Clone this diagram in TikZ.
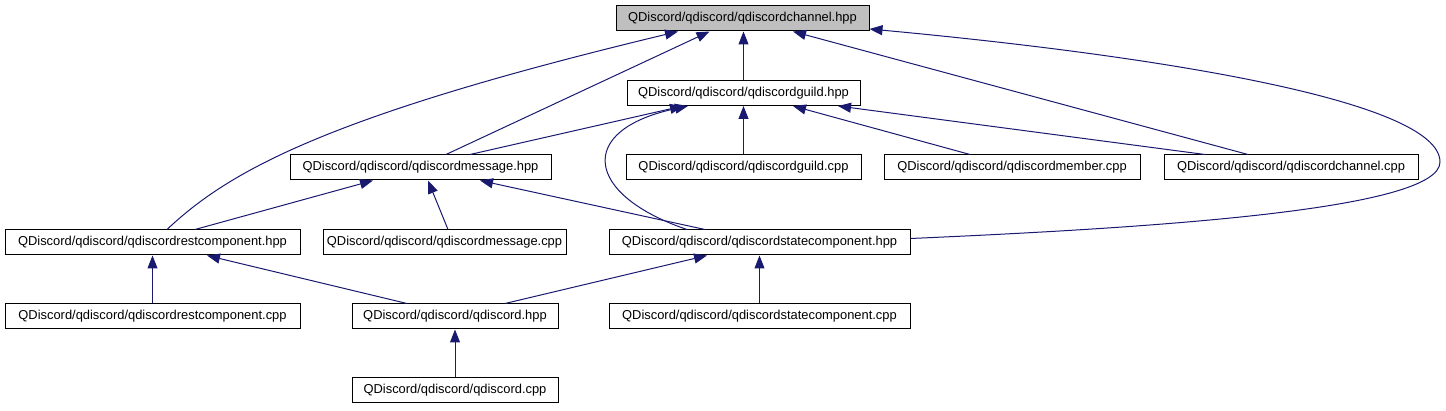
\documentclass[tikz,border=0pt]{standalone}
\usepackage{fontspec}
\setmainfont{Liberation Sans}
\usetikzlibrary{arrows.meta,positioning,calc}
\definecolor{depBlue}{HTML}{191970}
\definecolor{rootGray}{HTML}{BFBFBF}

\begin{document}
\begin{tikzpicture}[
  x=1pt, y=-1pt,
  font=\fontsize{12.9}{14}\selectfont, >={Triangle[length=13pt,width=10pt]},
  file/.style={draw=black,line width=1pt,inner sep=0pt,minimum height=25pt,anchor=center},
  root/.style={file,fill=rootGray},
  dep/.style={->,draw=depBlue,line width=1pt},
]
\useasboundingbox (0,0) rectangle (1446,411);

% row 1
\node[root,minimum width=253pt] (chh) at (742.5,18.5) {QDiscord/qdiscord/qdiscordchannel.hpp};
% row 2
\node[file,minimum width=233pt] (gdh) at (743.5,93) {QDiscord/qdiscord/qdiscordguild.hpp};
% row 3
\node[file,minimum width=261pt] (msh) at (420.5,167.5) {QDiscord/qdiscord/qdiscordmessage.hpp};
\node[file,minimum width=235pt] (gdc) at (743.5,167.5) {QDiscord/qdiscord/qdiscordguild.cpp};
\node[file,minimum width=256pt] (mbc) at (1012,167.5) {QDiscord/qdiscord/qdiscordmember.cpp};
\node[file,minimum width=254pt] (chc) at (1291,167.5) {QDiscord/qdiscord/qdiscordchannel.cpp};
% row 4
\node[file,minimum width=295pt] (rsh) at (152.5,242.5) {QDiscord/qdiscord/qdiscordrestcomponent.hpp};
\node[file,minimum width=243pt] (msc) at (444.5,242.5) {QDiscord/qdiscord/qdiscordmessage.cpp};
\node[file,minimum width=301pt] (sth) at (759.5,242.5) {QDiscord/qdiscord/qdiscordstatecomponent.hpp};
% row 5
\node[file,minimum width=295pt] (rsc) at (152.5,316.5) {QDiscord/qdiscord/qdiscordrestcomponent.cpp};
\node[file,minimum width=206pt] (qdh) at (455,316.5) {QDiscord/qdiscord/qdiscord.hpp};
\node[file,minimum width=301pt] (stc) at (759.5,316.5) {QDiscord/qdiscord/qdiscordstatecomponent.cpp};
% row 6
\node[file,minimum width=206pt] (qdc) at (455,390.5) {QDiscord/qdiscord/qdiscord.cpp};

% includes of qdiscordchannel.hpp
\draw[dep] (gdh.north) -- (gdh.north |- chh.south);
\draw[dep] ([xshift=25.5pt]msh.north) -- ([xshift=-33pt]chh.south);
\draw[dep] ([xshift=14.5pt]rsh.north) .. controls (230,170) and (330,115) .. ([xshift=-64.5pt]chh.south);
\draw[dep] ([xshift=-43pt]chc.north) -- ([xshift=50.5pt]chh.south);
\draw[dep] ([yshift=4pt]sth.east) .. controls (1150,228) and (1440,210) .. (1440,162)
  .. controls (1440,100) and (1150,55) .. ([yshift=-10.5pt]chh.east);
% includes of qdiscordguild.hpp
\draw[dep] ([xshift=49.5pt]msh.north) -- ([xshift=-60.5pt]gdh.south);
\draw[dep] ([xshift=-72.5pt]sth.north) .. controls (585,195) and (575,130) .. ([xshift=-55.5pt]gdh.south);
\draw[dep] (gdc.north) -- (gdc.north |- gdh.south);
\draw[dep] ([xshift=-42pt]mbc.north) -- ([xshift=49.5pt]gdh.south);
\draw[dep] ([xshift=-86pt]chc.north) -- ([xshift=94.5pt]gdh.south);
% includes of qdiscordmessage.hpp
\draw[dep] ([xshift=42.5pt]rsh.north) -- ([xshift=-47.5pt]msh.south);
\draw[dep] ([xshift=3.5pt]msc.north) -- ([xshift=7.5pt]msh.south);
\draw[dep] ([xshift=-54.5pt]sth.north) -- ([xshift=59.5pt]msh.south);
% lower levels
\draw[dep] (rsc.north) -- (rsh.south);
\draw[dep] ([xshift=-48pt]qdh.north) -- ([xshift=54.5pt]rsh.south);
\draw[dep] ([xshift=50pt]qdh.north) -- ([xshift=-52.5pt]sth.south);
\draw[dep] (stc.north) -- (sth.south);
\draw[dep] (qdc.north) -- (qdh.south);
\end{tikzpicture}
\end{document}
